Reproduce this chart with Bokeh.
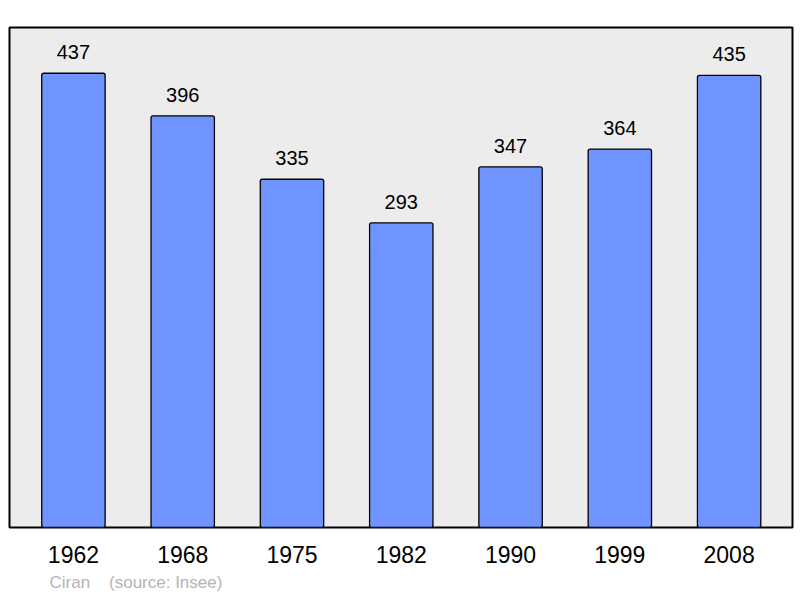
from bokeh.plotting import figure
from bokeh.models import ColumnDataSource, Range1d, FixedTicker, Title
from bokeh.core.properties import value
from bokeh.embed import file_html
from bokeh.resources import INLINE

years = ["1962", "1968", "1975", "1982", "1990", "1999", "2008"]
population = [437, 396, 335, 293, 347, 364, 435]
footer_text = "Ciran\u00a0\u00a0\u00a0\u00a0(source: Insee)"

idx = list(range(len(years)))
src = ColumnDataSource(data=dict(x=idx, top=population, label=[str(v) for v in population]))

W, H = 798, 596
p = figure(width=W, height=H, output_backend="svg", toolbar_location=None,
           x_range=Range1d(-0.585, 6.58), y_range=Range1d(0, 481),
           min_border_left=9, min_border_right=6, min_border_top=27, min_border_bottom=68)
p.background_fill_color = "#ececec"
p.border_fill_color = "white"
p.outline_line_color = "black"
p.outline_line_width = 2
p.grid.visible = False
p.yaxis.visible = False

p.vbar(x="x", top="top", bottom=0, width=0.58, source=src,
       fill_color="#7094ff", line_color="black", line_width=1.3, border_radius=2)
p.text(x="x", y="top", text="label", source=src, text_align="center",
       text_baseline="bottom", y_offset=-14, text_font_size="20px",
       text_font=value("Liberation Sans"), text_color="black")

ax = p.xaxis[0]
ax.ticker = FixedTicker(ticks=idx)
ax.major_label_overrides = {i: y for i, y in enumerate(years)}
ax.axis_line_color = None
ax.major_tick_line_color = None
ax.minor_tick_line_color = None
ax.major_tick_out = 0
ax.major_tick_in = 0
ax.major_label_standoff = 18
ax.major_label_text_font = "Liberation Sans"
ax.major_label_text_font_size = "23px"
ax.major_label_text_color = "black"

foot = Title(text=footer_text, align="left", offset=40, standoff=10,
             text_font="Liberation Sans", text_font_size="17px",
             text_font_style="normal", text_color="#b4b4b4")
p.add_layout(foot, "below")

open("out.html", "w").write(file_html(p, INLINE))
